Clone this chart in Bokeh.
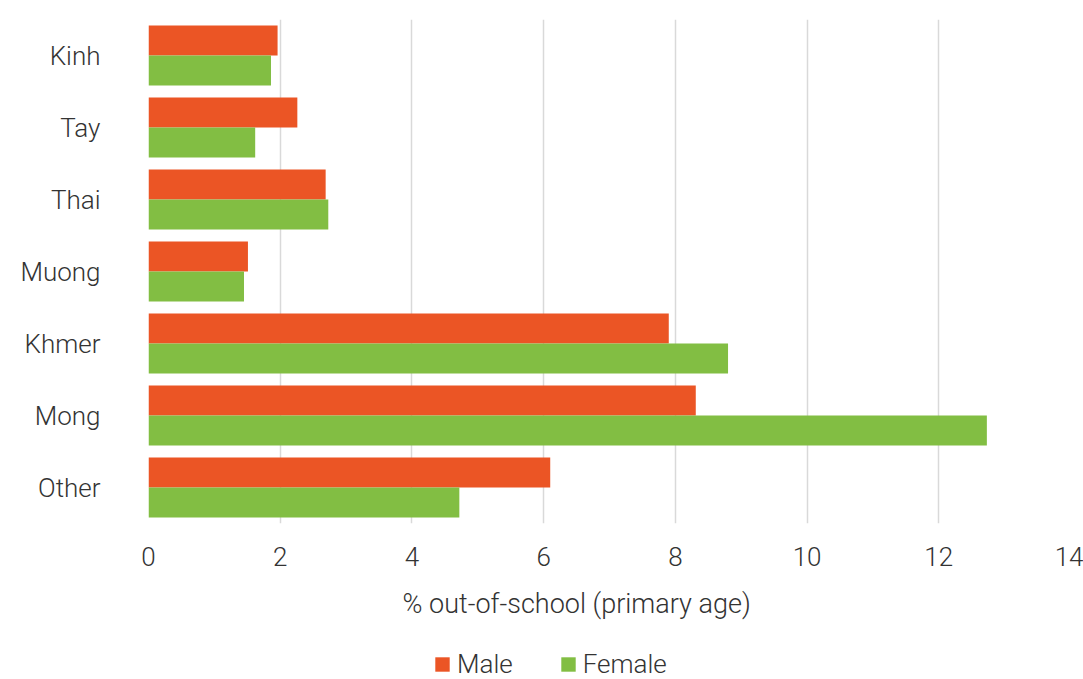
from bokeh.plotting import figure
from bokeh.layouts import column
from bokeh.models import ColumnDataSource, FactorRange, Range1d, SingleIntervalTicker, Legend, LegendItem
from bokeh.transform import dodge
from bokeh.embed import file_html
from bokeh.resources import INLINE

groups = ["Kinh", "Tay", "Thai", "Muong", "Khmer", "Mong", "Other"]
male = [1.96, 2.26, 2.69, 1.51, 7.90, 8.31, 6.10]
female = [1.86, 1.62, 2.73, 1.45, 8.80, 12.73, 4.72]
series_names = ["Male", "Female"]
colors = ["#EB5525", "#82BE43"]
x_label = "% out-of-school (primary age)"

FONT = "Roboto Light, Roboto"
TXT = "#333333"
FS = "26px"

src = ColumnDataSource(dict(group=groups, male=male, female=female))

p = figure(width=1083, height=639, output_backend="svg", toolbar_location=None,
           y_range=FactorRange(factors=list(reversed(groups)), range_padding=0),
           x_range=Range1d(0, 14),
           min_border_left=148, min_border_right=13, min_border_top=19, min_border_bottom=116)

p.hbar(y=dodge("group", 0.2083, range=p.y_range), right="male", left=0, height=0.4167,
       source=src, fill_color=colors[0], line_color=None)
p.hbar(y=dodge("group", -0.2083, range=p.y_range), right="female", left=0, height=0.4167,
       source=src, fill_color=colors[1], line_color=None)

p.outline_line_color = None
p.ygrid.grid_line_color = None
p.xgrid.grid_line_color = "#d9d9d9"
p.xgrid.grid_line_width = 1.5
p.xaxis.ticker = SingleIntervalTicker(interval=2)

for ax in (p.xaxis[0], p.yaxis[0]):
    ax.axis_line_color = None
    ax.major_tick_line_color = None
    ax.minor_tick_line_color = None
    ax.major_label_text_font = FONT
    ax.major_label_text_font_size = FS
    ax.major_label_text_color = TXT

p.yaxis.major_label_standoff = 42
p.xaxis.major_label_standoff = 17
# trailing non-breaking spaces shift the centred title left, as in the reference
p.xaxis.axis_label = x_label + "\u00a0" * 10
p.xaxis.axis_label_text_font = FONT
p.xaxis.axis_label_text_font_size = "27px"
p.xaxis.axis_label_text_font_style = "normal"
p.xaxis.axis_label_text_color = TXT
p.xaxis.axis_label_standoff = 19

# legend strip
lg = figure(width=1083, height=40, output_backend="svg", toolbar_location=None,
            x_range=Range1d(0, 1), y_range=Range1d(0, 1),
            x_axis_location=None, y_axis_location=None,
            min_border_left=0, min_border_right=0, min_border_top=0, min_border_bottom=0)
lg.outline_line_color = None
lg.grid.grid_line_color = None
items = []
for name, col in zip(series_names, colors):
    r = lg.hbar(y=[-5], right=[-5], left=-5, height=0.1, fill_color=col, line_color=None)
    items.append(LegendItem(label=name, renderers=[r]))

legend = Legend(items=items, orientation="horizontal", location=(285, 0),
                padding=0, margin=0, spacing=46, label_standoff=6,
                glyph_width=18, glyph_height=18,
                label_text_font=FONT, label_text_font_size=FS, label_text_color=TXT,
                border_line_color=None, background_fill_alpha=0)
lg.add_layout(legend, "center")

layout = column(p, lg, spacing=0)
open("out.html", "w").write(file_html(layout, INLINE))
